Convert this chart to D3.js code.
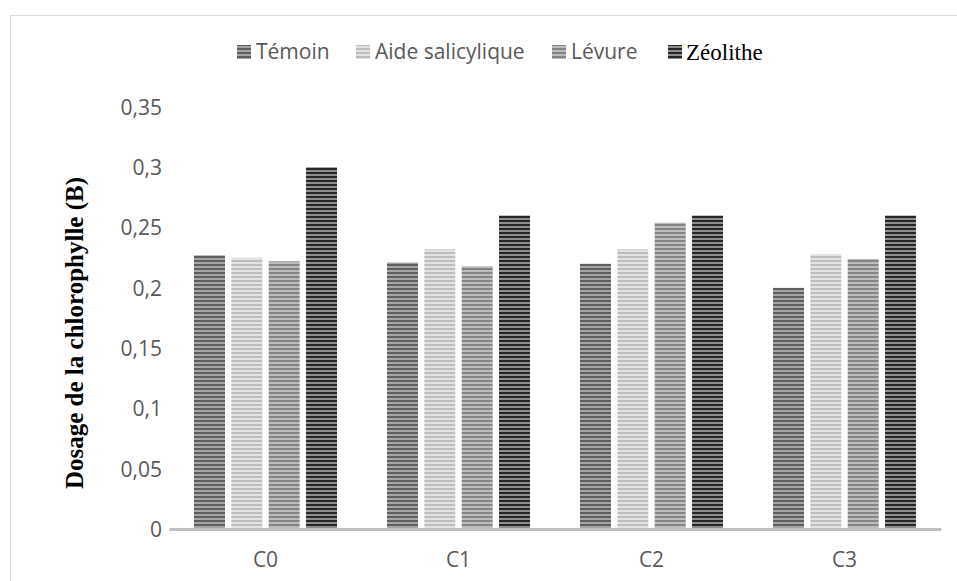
<!DOCTYPE html>
<html>
<head>
<meta charset="utf-8">
<script src="https://cdn.jsdelivr.net/npm/d3@7/dist/d3.min.js"></script>
<style>
  html, body { margin: 0; padding: 0; background: #fff; }
  svg { display: block; }
</style>
</head>
<body>
<svg id="chart" width="957" height="581"></svg>
<script>
// Chlorophyll B dosage by treatment and condition
const categories = ["C0", "C1", "C2", "C3"];
const seriesNames = ["Témoin", "Aide salicylique", "Lévure", "Zéolithe"];
const temoin   = [0.227, 0.221, 0.220, 0.200];
const aide     = [0.225, 0.232, 0.232, 0.228];
const levure   = [0.222, 0.218, 0.254, 0.224];
const zeolithe = [0.300, 0.260, 0.260, 0.260];
const yTicks = [0, 0.05, 0.1, 0.15, 0.2, 0.25, 0.3, 0.35];
const yTitle = "Dosage de la chlorophylle (B)";

const seriesValues = [temoin, aide, levure, zeolithe];
// stripe colours per series: [dark stripe, light stripe]
const stripeColors = [
  ["#5e5e5e", "#a4a4a4"],
  ["#bdbdbd", "#e2e2e2"],
  ["#838383", "#bcbcbc"],
  ["#262626", "#8e8e8e"]
];

const svg = d3.select("#chart");
const defs = svg.append("defs");

stripeColors.forEach((c, i) => {
  const p = defs.append("pattern")
    .attr("id", "stripe" + i)
    .attr("patternUnits", "userSpaceOnUse")
    .attr("width", 8).attr("height", 4);
  p.append("rect").attr("width", 8).attr("height", 4).attr("fill", c[1]);
  p.append("rect").attr("width", 8).attr("height", 2).attr("fill", c[0]);
});

// outer chart frame
svg.append("rect")
  .attr("x", 10.5).attr("y", 15.5)
  .attr("width", 980).attr("height", 620)
  .attr("fill", "none").attr("stroke", "#d9d9d9").attr("stroke-width", 1);

const plot = { left: 169, right: 941, top: 107, bottom: 529 };
const labelFont = "'Open Sans', sans-serif";
const labelColor = "#595959";

const y = d3.scaleLinear().domain([0, 0.35]).range([plot.bottom, plot.top]);
const x0 = d3.scaleBand().domain(categories).range([plot.left, plot.right]).padding(0);
const x1 = d3.scaleBand().domain(seriesNames).range([25, x0.bandwidth() - 25])
  .paddingInner(0.17).paddingOuter(0);

const rows = [];
categories.forEach((cat, ci) => {
  seriesNames.forEach((s, si) => {
    rows.push({ cat, s, si, v: seriesValues[si][ci] });
  });
});

svg.append("g").selectAll("rect")
  .data(rows)
  .join("rect")
  .attr("x", d => x0(d.cat) + x1(d.s))
  .attr("y", d => y(d.v))
  .attr("width", x1.bandwidth())
  .attr("height", d => y(0) - y(d.v))
  .attr("fill", d => "url(#stripe" + d.si + ")");

// y axis labels (no axis line)
const yAxis = d3.axisLeft(y)
  .tickValues(yTicks)
  .tickSize(0)
  .tickPadding(0)
  .tickFormat(d => d3.format("")(d).replace(".", ","));
const gy = svg.append("g").attr("transform", "translate(162,0)").call(yAxis);
gy.select(".domain").remove();
gy.selectAll("text")
  .attr("font-family", labelFont)
  .attr("font-size", 21)
  .attr("fill", labelColor)
  .attr("dy", "0.35em");

// x axis
const xAxis = d3.axisBottom(x0).tickSize(0).tickPadding(0);
const gx = svg.append("g").attr("transform", `translate(0,${plot.bottom})`).call(xAxis);
gx.select(".domain").attr("stroke", "#bfbfbf").attr("stroke-width", 3);
gx.selectAll("text")
  .attr("font-family", labelFont)
  .attr("font-size", 21)
  .attr("fill", labelColor)
  .attr("y", 31)
  .attr("dy", "0.35em");

// y axis title
svg.append("text")
  .attr("transform", "translate(83,333) rotate(-90)")
  .attr("text-anchor", "middle")
  .attr("font-family", "'Liberation Serif', 'Times New Roman', serif")
  .attr("font-weight", "bold")
  .attr("font-size", 25)
  .attr("fill", "#000")
  .text(yTitle);

// legend
const legendItems = [
  { x: 237, font: labelFont, color: labelColor, size: 21 },
  { x: 356, font: labelFont, color: labelColor, size: 21 },
  { x: 552, font: labelFont, color: labelColor, size: 21 },
  { x: 668, font: "'Liberation Serif', 'Times New Roman', serif", color: "#000", size: 23 }
];
const lg = svg.append("g");
seriesNames.forEach((name, i) => {
  const it = legendItems[i];
  lg.append("rect")
    .attr("x", it.x).attr("y", 45)
    .attr("width", 14).attr("height", 14)
    .attr("fill", "url(#stripe" + i + ")");
  lg.append("text")
    .attr("x", it.x + (i === 3 ? 18 : 19)).attr("y", 52)
    .attr("dy", "0.35em")
    .attr("font-family", it.font)
    .attr("font-size", it.size)
    .attr("fill", it.color)
    .text(name);
});
</script>
</body>
</html>
